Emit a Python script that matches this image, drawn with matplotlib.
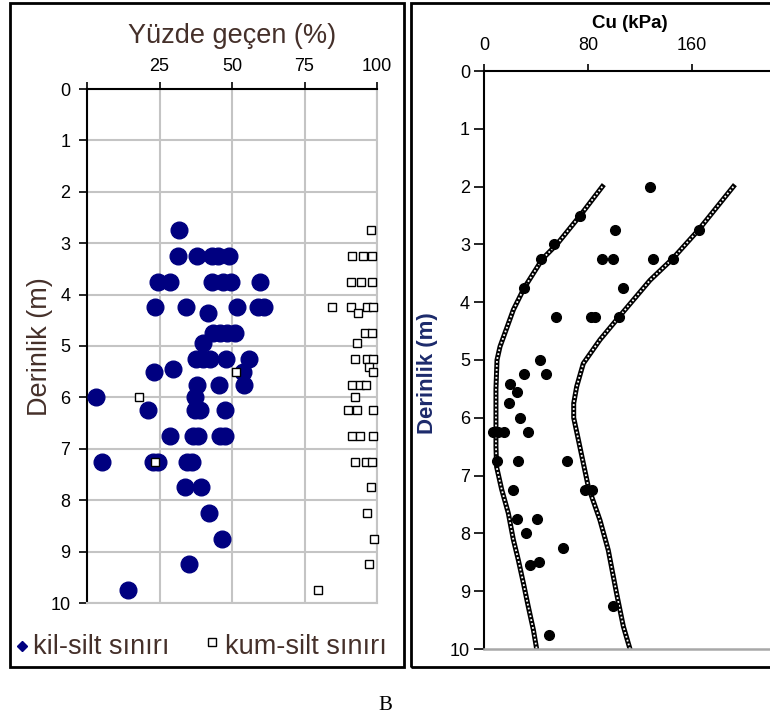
import matplotlib
matplotlib.use("Agg")
import matplotlib.pyplot as plt
from matplotlib.patches import Rectangle
from matplotlib.lines import Line2D

plt.rcParams['font.family'] = ['Liberation Sans', 'DejaVu Sans']

# ---------------- data: left panel (Yüzde geçen %) ----------------
kil_silt_pct = [31.8,
                31.5, 38, 43, 45, 49,
                24.5, 28.5, 43, 47, 49.5, 59.5,
                23.4, 34.1, 51.8, 59.1, 61,
                41.6,
                43.6, 46, 48.2, 51,
                40.1,
                37.6, 40.1, 42.4, 47.9, 56,
                29.8,
                23.1, 53.7,
                37.8, 45.6, 54.2,
                3.1, 37.2,
                20.9, 37.2, 39, 47.6,
                28.6, 36.7, 38.4, 45.9, 47.6,
                5.3, 22.9, 24.6, 34.4, 36.1,
                33.8, 39.3,
                42.1, 46.7, 35.2, 14.0]
kil_silt_depth = [2.75,
                  3.25, 3.25, 3.25, 3.25, 3.25,
                  3.75, 3.75, 3.75, 3.75, 3.75, 3.75,
                  4.25, 4.25, 4.25, 4.25, 4.25,
                  4.35,
                  4.75, 4.75, 4.75, 4.75,
                  4.95,
                  5.25, 5.25, 5.25, 5.25, 5.25,
                  5.45,
                  5.5, 5.5,
                  5.75, 5.75, 5.75,
                  6.0, 6.0,
                  6.25, 6.25, 6.25, 6.25,
                  6.75, 6.75, 6.75, 6.75, 6.75,
                  7.25, 7.25, 7.25, 7.25, 7.25,
                  7.75, 7.75,
                  8.25, 8.75, 9.25, 9.75]

kum_silt_pct = [97.8,
                91.4, 95.3, 98.2,
                90.9, 94.4, 98.4,
                84.6, 90.9, 96.7, 98.7,
                93.3,
                95.9, 98.4,
                93.0,
                92.4, 96.4, 98.5,
                97.2,
                98.5, 51.4,
                91.3, 94.1, 96.2,
                18.0, 92.4,
                90.1, 93.0, 98.7,
                91.3, 94.1, 98.7,
                23.4, 92.4, 96.2, 98.4,
                97.8, 96.7, 99.0, 97.4, 79.8]
kum_silt_depth = [2.75,
                  3.25, 3.25, 3.25,
                  3.75, 3.75, 3.75,
                  4.25, 4.25, 4.25, 4.25,
                  4.35,
                  4.75, 4.75,
                  4.95,
                  5.25, 5.25, 5.25,
                  5.4,
                  5.5, 5.5,
                  5.75, 5.75, 5.75,
                  6.0, 6.0,
                  6.25, 6.25, 6.25,
                  6.75, 6.75, 6.75,
                  7.25, 7.25, 7.25, 7.25,
                  7.75, 8.25, 8.75, 9.25, 9.75]

pct_ticks = [0, 25, 50, 75, 100]
pct_ticklabels = ['', '25', '50', '75', '100']
depth_ticks = [0, 1, 2, 3, 4, 5, 6, 7, 8, 9, 10]

# ---------------- data: right panel (Cu kPa) ----------------
cu_values = [128, 74, 101, 54, 165, 44, 91, 99.5, 130, 145, 31, 107, 55, 82, 85, 104,
             43, 31, 48, 20, 25, 19, 28, 7, 11, 15, 34, 10, 26, 64, 22, 78, 83,
             25, 41, 32, 61, 35, 42, 99.5, 50]
cu_depth = [2.0, 2.5, 2.75, 3.0, 2.75, 3.25, 3.25, 3.25, 3.25, 3.25, 3.75, 3.75, 4.25, 4.25, 4.25, 4.25,
            5.0, 5.25, 5.25, 5.42, 5.55, 5.75, 6.0, 6.25, 6.25, 6.25, 6.25, 6.75, 6.75, 6.75, 7.25, 7.25, 7.25,
            7.75, 7.75, 8.0, 8.25, 8.55, 8.5, 9.25, 9.75]

lower_cu = [91, 74, 56, 45, 31, 22.6, 16, 12.3, 10, 9.2, 9.2, 9.2, 9.7, 13.6, 18.7, 22.6, 26.4, 30.3, 34.1, 38, 40.5]
lower_depth = [2.0, 2.5, 3.0, 3.25, 3.75, 4.13, 4.54, 4.77, 5.0, 5.5, 6.0, 6.5, 6.85, 7.24, 7.65, 8.11, 8.46, 8.86, 9.27, 9.67, 10.0]
upper_cu = [191.8, 165, 145, 127.7, 104, 89.2, 76.4, 71.3, 69, 69, 72.6, 80.3, 89.2, 95.6, 102, 107.2, 112.3]
upper_depth = [2.0, 2.75, 3.25, 3.62, 4.25, 4.65, 5.06, 5.46, 5.75, 6.0, 6.38, 7.2, 7.77, 8.29, 9.04, 9.61, 10.0]

cu_ticks = [0, 80, 160]

W, H = 770, 722
fig = plt.figure(figsize=(W / 100, H / 100), dpi=100)


def fx(px):
    return px / W


def fy(py):
    return 1 - py / H


# frames
fig.add_artist(Rectangle((fx(9.5), fy(666.5)), fx(403.5) - fx(9.5), (666.5 - 2.5) / H,
                         transform=fig.transFigure, fill=False, lw=2.0, ec='black'))
fig.add_artist(Rectangle((fx(411), fy(666.5)), fx(820) - fx(411), (666.5 - 2.5) / H,
                         transform=fig.transFigure, fill=False, lw=2.0, ec='black', clip_on=False))

txt_col = '#45302a'

# ---------------- left axes ----------------
ax1 = fig.add_axes([fx(87), fy(603), 290 / W, 514 / H])
ax1.set_xlim(0, 100)
ax1.set_ylim(10, 0)
ax1.grid(True, color='#c4c4c4', lw=1.5)
ax1.set_axisbelow(True)
ax1.plot(kil_silt_pct, kil_silt_depth, 'o', color='#000080', ms=12, mec='#000080', zorder=3, clip_on=False)
ax1.plot(kum_silt_pct, kum_silt_depth, 's', mfc='white', mec='black', ms=6, mew=1.0, zorder=4, clip_on=False)
ax1.xaxis.tick_top()
ax1.set_xticks(pct_ticks)
ax1.set_xticklabels(pct_ticklabels)
ax1.set_yticks(depth_ticks)
ax1.set_yticklabels([str(t) for t in depth_ticks])
ax1.tick_params(axis='x', direction='out', length=5, width=1.2, labelsize=13, pad=5)
ax1.tick_params(axis='y', direction='out', length=6, width=1.2, labelsize=13, pad=6)
for s in ['top', 'left']:
    ax1.spines[s].set_color('black')
    ax1.spines[s].set_linewidth(1.5)
for s in ['bottom', 'right']:
    ax1.spines[s].set_color('#c4c4c4')
    ax1.spines[s].set_linewidth(1.5)

fig.text(fx(232), fy(36), 'Yüzde geçen (%)', ha='center', va='center', fontsize=19.5, color=txt_col)
fig.text(fx(40), fy(347), 'Derinlik (m)', ha='center', va='center', rotation=90, fontsize=19.5, color=txt_col)

# legend (manual)
fig.add_artist(Line2D([fx(22)], [fy(646)], marker='D', ms=5, color='#000080', transform=fig.transFigure))
fig.text(fx(33), fy(647), 'kil-silt sınırı', ha='left', va='center', fontsize=19.5, color=txt_col)
fig.add_artist(Line2D([fx(212)], [fy(642)], marker='s', ms=6, mfc='white', mec='black', mew=1.0,
                      transform=fig.transFigure))
fig.text(fx(225), fy(647), 'kum-silt sınırı', ha='left', va='center', fontsize=19.5, color=txt_col)

# ---------------- right axes ----------------
ax2 = fig.add_axes([fx(484), fy(649), 312 / W, 578 / H])
ax2.set_xlim(0, 240)
ax2.set_ylim(10, 0)
for cu, dep in [(lower_cu, lower_depth), (upper_cu, upper_depth)]:
    ax2.plot(cu, dep, '-', color='black', lw=3.6, zorder=2, solid_joinstyle='miter')
    ax2.plot(cu, dep, '-', color='white', lw=1.3, dashes=(1.0, 1.2), zorder=2.5)
ax2.plot(cu_values, cu_depth, 'o', color='black', ms=7, zorder=3)
ax2.xaxis.tick_top()
ax2.set_xticks(cu_ticks)
ax2.set_xticklabels([str(t) for t in cu_ticks])
ax2.set_yticks(depth_ticks)
ax2.set_yticklabels([str(t) for t in depth_ticks])
ax2.tick_params(axis='x', direction='out', length=5, width=1.2, labelsize=13, pad=7)
ax2.tick_params(axis='y', direction='out', length=7, width=1.2, labelsize=13, pad=3)
for s in ['top', 'left']:
    ax2.spines[s].set_color('black')
    ax2.spines[s].set_linewidth(1.5)
ax2.spines['bottom'].set_color('#a8a8a8')
ax2.spines['bottom'].set_linewidth(1.8)
ax2.spines['right'].set_visible(False)

fig.text(fx(630), fy(23), 'Cu (kPa)', ha='center', va='center', fontsize=13.5, fontweight='bold', color='black')
fig.text(fx(427), fy(373), 'Derinlik (m)', ha='center', va='center', rotation=90, fontsize=16,
         fontweight='bold', color='#1c2a6b')

fig.text(fx(385), fy(706), 'B', ha='center', va='center', fontsize=15, family=['Liberation Serif', 'DejaVu Serif'])

fig.savefig('out.png', dpi=100)
